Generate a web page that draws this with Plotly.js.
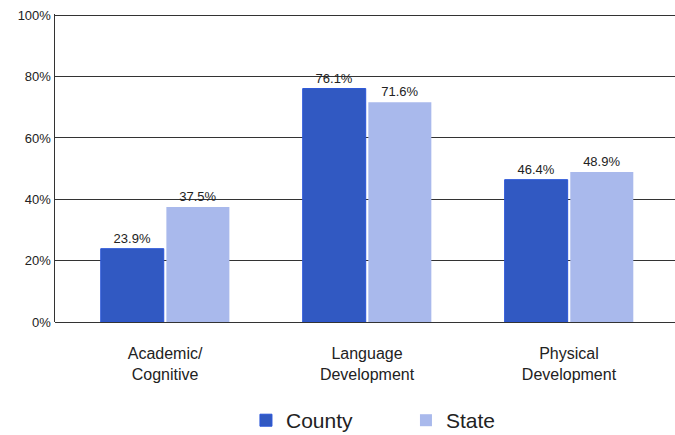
<!DOCTYPE html>
<html>
<head>
<meta charset="utf-8">
<script src="https://cdn.plot.ly/plotly-3.0.1.min.js"></script>
<style>
  body { margin: 0; background: #fff; }
  #chart { width: 675px; height: 435px; }
</style>
</head>
<body>
<div id="chart"></div>
<script>
var categories = ['Academic/<br>Cognitive', 'Language<br>Development', 'Physical<br>Development'];
var countyValues = [23.9, 76.1, 46.4];
var stateValues = [37.5, 71.6, 48.9];
var yTicks = [0, 20, 40, 60, 80, 100];
var yTickText = ['0%', '20%', '40%', '60%', '80%', '100%'];

function pctLabels(vals) {
    return vals.map(function (v) { return v.toFixed(1) + '%'; });
}

var county = {
    type: 'bar', name: 'County', x: categories, y: countyValues,
    text: pctLabels(countyValues), textposition: 'outside', cliponaxis: false,
    textfont: {size: 13, color: '#222'},
    marker: {color: '#3159c2', line: {color: '#2a55d8', width: 1}}
};
var state = {
    type: 'bar', name: 'State', x: categories, y: stateValues,
    text: pctLabels(stateValues), textposition: 'outside', cliponaxis: false,
    textfont: {size: 13, color: '#222'},
    marker: {color: '#a9b9ec'}
};

var layout = {
    width: 675, height: 435,
    margin: {l: 55, r: 0, t: 14, b: 113, autoexpand: false},
    font: {family: 'Liberation Sans, Arial, sans-serif', color: '#222'},
    plot_bgcolor: 'white', paper_bgcolor: 'white',
    barmode: 'group', bargap: 0.35, bargroupgap: 0.04,
    xaxis: {
        range: [-0.545, 2.525], automargin: false,
        tickfont: {size: 16, color: '#222'},
        ticklabelstandoff: 20,
        showline: false, showgrid: false, zeroline: false
    },
    yaxis: {
        range: [0, 100.4], automargin: false,
        tickvals: yTicks, ticktext: yTickText,
        tickfont: {size: 13, color: '#222'},
        showgrid: true, gridcolor: '#333', gridwidth: 1,
        showline: true, linecolor: '#333', linewidth: 1.5,
        zeroline: true, zerolinecolor: '#333',
        fixedrange: true
    },
    showlegend: true,
    legend: {
        orientation: 'h', x: 0.308, xanchor: 'left', y: -0.32, yanchor: 'middle',
        font: {size: 21, color: '#222'},
        entrywidth: 115, entrywidthmode: 'pixels',
        itemwidth: 30, traceorder: 'normal'
    }
};

Plotly.newPlot('chart', [county, state], layout, {displayModeBar: false, staticPlot: true});
</script>
</body>
</html>
